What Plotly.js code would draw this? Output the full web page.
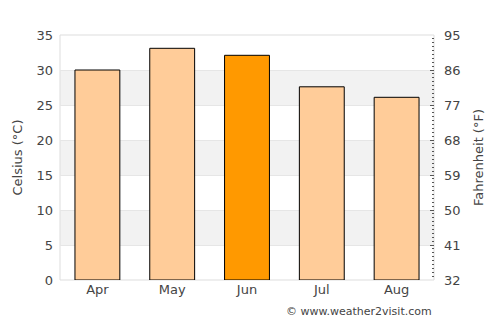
<!DOCTYPE html>
<html><head><meta charset="utf-8">
<script src="https://cdn.plot.ly/plotly-3.0.1.min.js"></script>
<style>body{margin:0;padding:0;}#chart{width:500px;height:325px;}</style>
</head><body><div id="chart"></div>
<script>
var months = ["Apr", "May", "Jun", "Jul", "Aug"];
var celsius = [30.0, 33.1, 32.1, 27.6, 26.1];
var barColors = ["#ffcc99", "#ffcc99", "#ff9900", "#ffcc99", "#ffcc99"];
var fahrenheitTicks = [32, 41, 50, 59, 68, 77, 86, 95];
var bandStarts = [5, 15, 25];

var font = "DejaVu Sans, sans-serif";
var shapes = bandStarts.map(function(s){
  return {type:"rect", xref:"paper", yref:"y", x0:0, x1:1, y0:s, y1:s+5,
          fillcolor:"#f2f2f2", line:{width:0}, layer:"below"};
});
shapes.push({type:"rect", xref:"paper", yref:"paper", x0:0, x1:1, y0:0, y1:1,
             line:{color:"#dddddd", width:1}, fillcolor:"rgba(0,0,0,0)", layer:"below"});

var traces = [
  {type:"bar", x:months, y:celsius, width:0.6,
   marker:{color:barColors, line:{color:"#000", width:1}}, hoverinfo:"skip"},
  {type:"scatter", x:months, y:celsius.map(function(c){return c*9/5+32;}), yaxis:"y2",
   mode:"markers", marker:{opacity:0}, hoverinfo:"skip", showlegend:false}
];

var layout = {
  width:500, height:325,
  margin:{l:60, r:66, t:35, b:45},
  paper_bgcolor:"#fff", plot_bgcolor:"#fff",
  showlegend:false,
  font:{family:font, size:13, color:"#444"},
  bargap:0.4,
  shapes:shapes,
  xaxis:{type:"category", range:[-0.5, 4.5], showgrid:false, zeroline:false, ticks:"",
         tickfont:{size:13, color:"#444"}, fixedrange:true},
  yaxis:{range:[0,35], dtick:5, tick0:0, showgrid:true, gridcolor:"#e6e6e6", zeroline:false,
         ticks:"", tickfont:{size:13, color:"#444"}, ticklabelstandoff:6,
         title:{text:"Celsius (°C)", font:{size:13, color:"#444"}, standoff:10}},
  yaxis2:{overlaying:"y", side:"right", range:[32,95], tickmode:"array",
          tickvals:fahrenheitTicks, ticktext:fahrenheitTicks.map(String),
          showgrid:false, zeroline:false, ticks:"inside", ticklen:4, tickcolor:"#555", tickwidth:1,
          minor:{dtick:1, tick0:32, ticks:"inside", ticklen:2, tickcolor:"#555", tickwidth:1, showgrid:false},
          tickfont:{size:13, color:"#444"}, ticklabelstandoff:9,
          title:{text:"Fahrenheit (°F)", font:{size:13, color:"#444"}, standoff:14}},
  annotations:[{xref:"paper", yref:"paper", x:1, y:0, yshift:-40, xanchor:"right", yanchor:"bottom",
                text:"© www.weather2visit.com", showarrow:false, font:{size:11, color:"#444"}}]
};
Plotly.newPlot("chart", traces, layout, {staticPlot:true, displayModeBar:false});
</script></body></html>
